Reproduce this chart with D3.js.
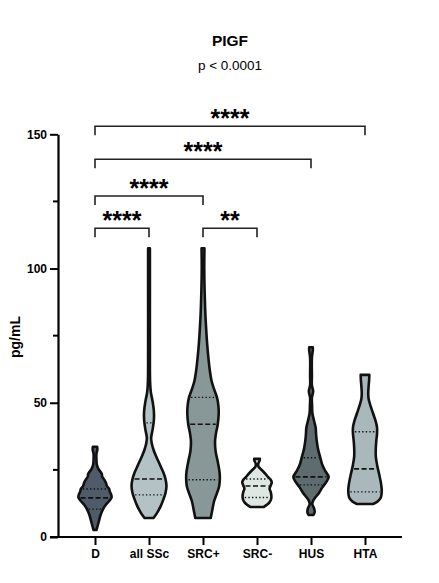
<!DOCTYPE html>
<html>
<head>
<meta charset="utf-8">
<script src="https://d3js.org/d3.v7.min.js"></script>
<style>
  body { margin: 0; background: #fff; }
  svg text { font-family: "Liberation Sans", Arial, sans-serif; }
</style>
</head>
<body>
<div id="chart"></div>
<script>
// groups on the x axis
var categories = ["D", "all SSc", "SRC+", "SRC-", "HUS", "HTA"];
var fills = ["#4f5b68", "#b3c2c5", "#889797", "#dfe7e3", "#5e6b6f", "#a8b8bb"];

// violin outlines: [pg/mL, relative density 0..1]
var densD = [[2.6,0.08],[4,0.14],[6,0.22],[8,0.3],[10,0.42],[12,0.6],[13.5,0.8],[14.7,0.92],[15.8,0.9],[17,0.82],[18,0.78],[19,0.66],[20.3,0.6],[21.5,0.5],[22.5,0.4],[23.5,0.38],[24.5,0.28],[25.5,0.18],[27,0.1],[29,0.08],[31,0.08],[32.5,0.13],[33.6,0.12]];
var densAll = [[7.1,0.25],[9,0.45],[11.5,0.65],[14,0.8],[16.5,0.92],[19,0.97],[21.5,0.92],[24,0.8],[27,0.6],[30,0.4],[32.5,0.25],[35,0.15],[37,0.12],[40,0.2],[43.5,0.27],[47,0.27],[50.5,0.2],[54,0.1],[58,0.06],[70,0.05],[90,0.05],[107.5,0.05]];
var densSrcP = [[7.1,0.43],[9.5,0.5],[13.4,0.62],[19,0.9],[23.4,0.93],[28,0.82],[32,0.7],[35.7,0.67],[38.5,0.72],[42,0.82],[45.6,0.87],[48.5,0.86],[51.9,0.78],[55,0.62],[58,0.48],[62,0.38],[66.7,0.3],[72,0.23],[79.3,0.16],[85,0.12],[91.6,0.09],[100,0.07],[107.5,0.08]];
var densSrcM = [[11.2,0.38],[12,0.55],[12.8,0.68],[14,0.78],[15.3,0.8],[16.8,0.76],[18,0.7],[19.2,0.76],[20.3,0.82],[21.3,0.76],[22.3,0.62],[23.5,0.47],[24.5,0.33],[25.5,0.18],[26.3,0.08],[27.3,0.07],[28.4,0.14],[29.1,0.16]];
var densHus = [[8.2,0.13],[9.2,0.2],[10.5,0.18],[12.3,0.07],[13.5,0.12],[14.7,0.24],[16.5,0.45],[18.4,0.62],[20.5,0.85],[22.4,0.98],[24.5,0.8],[27,0.62],[29.5,0.52],[32.5,0.4],[35.7,0.32],[38.5,0.28],[40.7,0.26],[43,0.18],[46,0.08],[49,0.06],[51.9,0.05],[54.3,0.12],[56.5,0.05],[60,0.05],[66.7,0.05],[69.5,0.1],[70.7,0.1]];
var densHta = [[12.3,0.45],[13.2,0.7],[14.7,0.88],[17,0.93],[19.5,0.9],[23,0.8],[26.5,0.68],[30,0.6],[33,0.6],[36,0.63],[38.5,0.67],[40.7,0.67],[43,0.6],[46,0.45],[49,0.3],[51.5,0.2],[53.5,0.18],[56,0.2],[58.5,0.23],[60.4,0.24]];
var densities = [densD, densAll, densSrcP, densSrcM, densHus, densHta];

// quartiles [Q1, median, Q3]
var quartiles = [[10.4,14.6,17.9],[15.7,21.6,42.5],[21.3,42,52],[14.7,19,21.6],[19.4,22.4,29.5],[16.8,25.4,39.2]];

// significance brackets
var compFrom = ["D", "D", "D", "D", "SRC+"];
var compTo = ["HTA", "HUS", "SRC+", "all SSc", "SRC-"];
var compStars = ["****", "****", "****", "****", "**"];
var compLevel = [153, 140.7, 127, 115, 115];

var yTicks = [0, 50, 100, 150];
var yMinor = [25, 75, 125];

var width = 439, height = 583;

var svg = d3.select("#chart").append("svg")
    .attr("width", width)
    .attr("height", height);

var y = d3.scaleLinear().domain([0, 150]).range([537, 134.3]);
var x = d3.scalePoint().domain(categories).range([95, 365]);
var w = d3.scaleLinear().domain([0, 1]).range([0, 18]);

// title
svg.append("text").attr("x", 230).attr("y", 46)
    .attr("text-anchor", "middle").attr("font-weight", "bold").attr("font-size", 15.5)
    .text("PIGF");
svg.append("text").attr("x", 230).attr("y", 70)
    .attr("text-anchor", "middle").attr("font-size", 13.5)
    .text("p < 0.0001");

// violins
var area = d3.area()
    .y(function(d) { return y(d[0]); })
    .curve(d3.curveCatmullRom.alpha(0.5));

function halfAt(dens, v) {
  for (var i = 1; i < dens.length; i++) {
    if (v <= dens[i][0]) {
      var t = (v - dens[i-1][0]) / (dens[i][0] - dens[i-1][0]);
      return dens[i-1][1] + t * (dens[i][1] - dens[i-1][1]);
    }
  }
  return dens[dens.length-1][1];
}

categories.forEach(function(c, i) {
  var cx = x(c);
  var g = svg.append("g");
  g.append("path")
    .datum(densities[i])
    .attr("d", area.x0(function(d) { return cx - w(d[1]); }).x1(function(d) { return cx + w(d[1]); }))
    .attr("fill", fills[i])
    .attr("stroke", "#111")
    .attr("stroke-width", 2.6)
    .attr("stroke-linejoin", "round");

  quartiles[i].forEach(function(q, k) {
    var hw = w(halfAt(densities[i], q)) - 2;
    if (hw < 1) hw = 1;
    g.append("line")
      .attr("x1", cx - hw).attr("x2", cx + hw)
      .attr("y1", y(q)).attr("y2", y(q))
      .attr("stroke", "#111")
      .attr("stroke-width", k == 1 ? 1.7 : 1.4)
      .attr("stroke-dasharray", k == 1 ? "5,2.5" : "1.4,2.2");
  });
});

// y axis
var yAxis = svg.append("g")
    .attr("transform", "translate(58,0)")
    .call(d3.axisLeft(y).tickValues(yTicks).tickSize(8).tickSizeOuter(0).tickPadding(3));
yAxis.select(".domain").attr("stroke-width", 2.2);
yAxis.selectAll(".tick line").attr("stroke-width", 2);
yAxis.selectAll(".tick text").attr("font-size", 12).attr("font-weight", "bold")
    .attr("font-family", "Liberation Sans, Arial, sans-serif").attr("fill", "#000");

svg.append("g").selectAll("line").data(yMinor).enter().append("line")
    .attr("x1", 53).attr("x2", 58)
    .attr("y1", function(d) { return y(d); }).attr("y2", function(d) { return y(d); })
    .attr("stroke", "#000").attr("stroke-width", 2);

svg.append("text")
    .attr("transform", "translate(20,337) rotate(-90)")
    .attr("text-anchor", "middle").attr("font-weight", "bold").attr("font-size", 14)
    .text("pg/mL");

// x axis
var xAxis = svg.append("g")
    .attr("transform", "translate(0," + y(0) + ")")
    .call(d3.axisBottom(x).tickSize(8).tickSizeOuter(0).tickPadding(4));
xAxis.select(".domain").attr("d", "M50,0H402").attr("stroke-width", 2.2);
xAxis.selectAll(".tick line").attr("stroke-width", 2);
xAxis.selectAll(".tick text").attr("font-size", 12).attr("font-weight", "bold")
    .attr("font-family", "Liberation Sans, Arial, sans-serif").attr("fill", "#000");

// significance brackets
compFrom.forEach(function(a, i) {
  var x1 = x(a), x2 = x(compTo[i]), yy = y(compLevel[i]);
  svg.append("path")
    .attr("d", "M" + x1 + "," + (yy + 9) + "V" + yy + "H" + x2 + "V" + (yy + 9))
    .attr("fill", "none").attr("stroke", "#222").attr("stroke-width", 1.6);
  svg.append("text")
    .attr("x", (x1 + x2) / 2).attr("y", yy + 1)
    .attr("text-anchor", "middle").attr("font-weight", "bold").attr("font-size", 25)
    .text(compStars[i]);
});
</script>
</body>
</html>
